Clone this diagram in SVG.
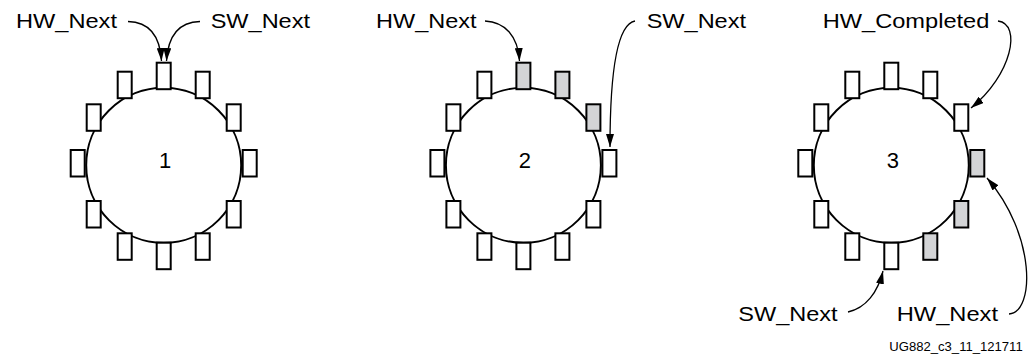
<svg xmlns="http://www.w3.org/2000/svg" width="1029" height="355" viewBox="0 0 1029 355">
  <style>
    .ring { fill: #ffffff; stroke: #000000; stroke-width: 2; }
    .slot { fill: #ffffff; stroke: #000000; stroke-width: 2; }
    .done { fill: #d3d4d6; }
    .lbl { font-family: "Liberation Sans", Arial, Helvetica, sans-serif; font-size: 21px; fill: #000000; }
    .num { font-family: "Liberation Sans", Arial, Helvetica, sans-serif; font-size: 22px; fill: #000000; text-anchor: middle; }
    .fig { font-family: "Liberation Sans", Arial, Helvetica, sans-serif; font-size: 12px; fill: #000000; }
    .conn { fill: none; stroke: #000000; stroke-width: 1.3; marker-end: url(#ah); }
  </style>
  <defs>
    <marker id="ah" markerUnits="userSpaceOnUse" viewBox="0 0 13 8" refX="13" refY="4" markerWidth="13" markerHeight="8" orient="auto">
      <path d="M0,0 L13,4 L0,8 Z" fill="#000000"/>
    </marker>
  </defs>
  <rect x="0" y="0" width="1029" height="355" fill="#ffffff"/>

  <!-- Ring 1 -->
  <g id="ring1" transform="translate(163.7,0)">
    <circle class="ring" cx="0" cy="165.3" r="77.5"/>
    <g id="ring1-slots">
      <rect class="slot" x="-7" y="62.7" width="14" height="26.5"/>
      <rect class="slot" x="32" y="71.7" width="14" height="26.5"/>
      <rect class="slot" x="63" y="104.3" width="14" height="26.5"/>
      <rect class="slot" x="79" y="150" width="14" height="26.5"/>
      <rect class="slot" x="63" y="201" width="14" height="26.5"/>
      <rect class="slot" x="32" y="233.3" width="14" height="26.5"/>
      <rect class="slot" x="-7" y="242.7" width="14" height="26.5"/>
      <rect class="slot" x="-46" y="233.3" width="14" height="26.5"/>
      <rect class="slot" x="-77" y="201" width="14" height="26.5"/>
      <rect class="slot" x="-93" y="150" width="14" height="26.5"/>
      <rect class="slot" x="-77" y="104.3" width="14" height="26.5"/>
      <rect class="slot" x="-46" y="71.7" width="14" height="26.5"/>
    </g>
    <text class="num" x="1.5" y="168.3">1</text>
  </g>

  <!-- Ring 2 -->
  <g id="ring2" transform="translate(523.4,0)">
    <circle class="ring" cx="0" cy="165.3" r="77.5"/>
    <g id="ring2-slots">
      <rect class="slot done" x="-7" y="62.7" width="14" height="26.5"/>
      <rect class="slot done" x="32" y="71.7" width="14" height="26.5"/>
      <rect class="slot done" x="63" y="104.3" width="14" height="26.5"/>
      <rect class="slot" x="79" y="150" width="14" height="26.5"/>
      <rect class="slot" x="63" y="201" width="14" height="26.5"/>
      <rect class="slot" x="32" y="233.3" width="14" height="26.5"/>
      <rect class="slot" x="-7" y="242.7" width="14" height="26.5"/>
      <rect class="slot" x="-46" y="233.3" width="14" height="26.5"/>
      <rect class="slot" x="-77" y="201" width="14" height="26.5"/>
      <rect class="slot" x="-93" y="150" width="14" height="26.5"/>
      <rect class="slot" x="-77" y="104.3" width="14" height="26.5"/>
      <rect class="slot" x="-46" y="71.7" width="14" height="26.5"/>
    </g>
    <text class="num" x="1.5" y="168.3">2</text>
  </g>

  <!-- Ring 3 -->
  <g id="ring3" transform="translate(891.3,0)">
    <circle class="ring" cx="0" cy="165.3" r="77.5"/>
    <g id="ring3-slots">
      <rect class="slot" x="-7" y="62.7" width="14" height="26.5"/>
      <rect class="slot" x="32" y="71.7" width="14" height="26.5"/>
      <rect class="slot" x="63" y="104.3" width="14" height="26.5"/>
      <rect class="slot done" x="79" y="150" width="14" height="26.5"/>
      <rect class="slot done" x="63" y="201" width="14" height="26.5"/>
      <rect class="slot done" x="32" y="233.3" width="14" height="26.5"/>
      <rect class="slot" x="-7" y="242.7" width="14" height="26.5"/>
      <rect class="slot" x="-46" y="233.3" width="14" height="26.5"/>
      <rect class="slot" x="-77" y="201" width="14" height="26.5"/>
      <rect class="slot" x="-93" y="150" width="14" height="26.5"/>
      <rect class="slot" x="-77" y="104.3" width="14" height="26.5"/>
      <rect class="slot" x="-46" y="71.7" width="14" height="26.5"/>
    </g>
    <text class="num" x="1.5" y="168.3">3</text>
  </g>

  <!-- Labels -->
  <g id="labels">
    <text id="l1-hw" class="lbl" x="16" y="28.3" textLength="101" lengthAdjust="spacingAndGlyphs">HW_Next</text>
    <text id="l1-sw" class="lbl" x="210.7" y="28.3" textLength="99.3" lengthAdjust="spacingAndGlyphs">SW_Next</text>
    <text id="l2-hw" class="lbl" x="376" y="28.3" textLength="100.5" lengthAdjust="spacingAndGlyphs">HW_Next</text>
    <text id="l2-sw" class="lbl" x="646.7" y="28.3" textLength="99.3" lengthAdjust="spacingAndGlyphs">SW_Next</text>
    <text id="l3-hwc" class="lbl" x="822.7" y="28.3" textLength="166.7" lengthAdjust="spacingAndGlyphs">HW_Completed</text>
    <text id="l3-sw" class="lbl" x="738.3" y="320.7" textLength="99.3" lengthAdjust="spacingAndGlyphs">SW_Next</text>
    <text id="l3-hw" class="lbl" x="896.7" y="320.7" textLength="101.3" lengthAdjust="spacingAndGlyphs">HW_Next</text>
    <text id="fig-id" class="fig" x="889.3" y="350.7" textLength="133.4" lengthAdjust="spacingAndGlyphs">UG882_c3_11_121711</text>
  </g>

  <!-- Connectors -->
  <g id="connectors">
    <path class="conn" d="M128,21.5 C150,22 160,36 161.5,61"/>
    <path class="conn" d="M200,21.5 C178,22 168,36 166.5,61"/>
    <path class="conn" d="M485,21 C505,22 518,36 519.5,61"/>
    <path class="conn" d="M635,21 C618,24 610,70 610,147"/>
    <path class="conn" d="M998,21 C1022,24 1012,75 971,108"/>
    <path class="conn" d="M1009,314 C1035,312 1036,235 987,178"/>
    <path class="conn" d="M848,312 C866,308 878,292 883,271"/>
  </g>
</svg>
